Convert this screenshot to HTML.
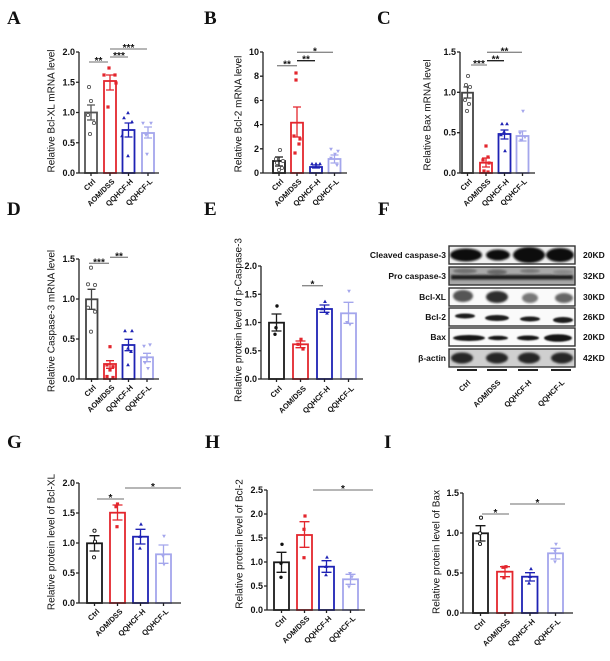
<!DOCTYPE html>
<html><head><meta charset="utf-8">
<style>
body{margin:0;background:#fff}
svg{display:block}
text{font-family:"Liberation Sans",Arial,sans-serif;fill:#111}
.L{font-family:"Liberation Serif","Times New Roman",serif;font-weight:bold;font-size:19px}
.t{font-weight:bold;font-size:9px;text-anchor:end}
.x{font-weight:bold;font-size:7.5px;text-anchor:end}
.y{font-size:10px;text-anchor:middle}
.s{font-size:10px;text-anchor:middle;font-weight:bold}
.b{font-weight:bold;font-size:8.5px}
.br{font-weight:bold;font-size:8.5px;text-anchor:end}
</style></head>
<body>
<svg width="610" height="661" viewBox="0 0 610 661" xmlns="http://www.w3.org/2000/svg">
<defs>
<circle id="oc" r="1.6" fill="#fff" stroke="#555" stroke-width="0.9"/>
<circle id="ok" r="1.6" fill="#fff" stroke="#111" stroke-width="0.9"/>
<circle id="fk" r="1.7" fill="#111"/>
<rect id="sq" x="-1.6" y="-1.6" width="3.2" height="3.2" fill="#e3262d"/>
<path id="tr" d="M0,-2.1L1.9,1.3H-1.9Z" fill="#1e22b4"/>
<path id="it" d="M0,2.1L1.9,-1.3H-1.9Z" fill="#a4a6ec"/>
<filter id="bl" x="-30%" y="-60%" width="160%" height="220%"><feGaussianBlur stdDeviation="1.1"/></filter>
<filter id="bl2" x="-30%" y="-60%" width="160%" height="220%"><feGaussianBlur stdDeviation="0.7"/></filter>
</defs>
<rect width="610" height="661" fill="#fff"/>

<!-- Panel letters -->
<text class="L" x="7" y="24">A</text>
<text class="L" x="204" y="24">B</text>
<text class="L" x="377" y="24">C</text>
<text class="L" x="7" y="215">D</text>
<text class="L" x="204" y="215">E</text>
<text class="L" x="378" y="215">F</text>
<text class="L" x="7" y="448">G</text>
<text class="L" x="205" y="448">H</text>
<text class="L" x="384" y="448">I</text>

<!-- ================= Panel A ================= -->
<g fill="#fff" stroke-width="1.8">
<rect x="85" y="112.5" width="12" height="60.5" stroke="#555"/>
<rect x="104" y="81" width="12" height="92" stroke="#e3262d"/>
<rect x="122.5" y="130" width="12" height="43" stroke="#1e22b4"/>
<rect x="142" y="133" width="12" height="40" stroke="#a4a6ec"/>
</g>
<g fill="none" stroke-width="1.3">
<path d="M91,105V120M87,105H95M87,120H95" stroke="#555"/>
<path d="M110,75V90M106,75H114M106,90H114" stroke="#e3262d"/>
<path d="M128.5,123V137M124.5,123H132.5M124.5,137H132.5" stroke="#1e22b4"/>
<path d="M148,127V138M144,127H152M144,138H152" stroke="#a4a6ec"/>
</g>
<use href="#oc" x="89" y="87"/><use href="#oc" x="91" y="101"/><use href="#oc" x="88" y="115"/><use href="#oc" x="94" y="123"/><use href="#oc" x="90" y="134"/>
<use href="#sq" x="109" y="68"/><use href="#sq" x="104" y="75"/><use href="#sq" x="115" y="75"/><use href="#sq" x="116" y="83"/><use href="#sq" x="108" y="107"/>
<use href="#tr" x="128" y="113"/><use href="#tr" x="124" y="118"/><use href="#tr" x="132" y="122"/><use href="#tr" x="122" y="136"/><use href="#tr" x="128" y="156"/>
<use href="#it" x="143" y="123"/><use href="#it" x="151" y="123"/><use href="#it" x="146" y="135"/><use href="#it" x="147" y="154"/>
<path d="M79,52V173H159M76,52H79M76,82.25H79M76,112.5H79M76,142.75H79M76,173H79M91,173V176M110,173V176M128.5,173V176M148,173V176" stroke="#222" stroke-width="1.3" fill="none"/>
<text class="t" x="75" y="55">2.0</text><text class="t" x="75" y="85.25">1.5</text><text class="t" x="75" y="115.5">1.0</text><text class="t" x="75" y="145.75">0.5</text><text class="t" x="75" y="176">0.0</text>
<text class="y" transform="translate(54.5,111) rotate(-90)">Relative Bcl-XL mRNA level</text>
<text class="x" transform="translate(96,182) rotate(-45)">Ctrl</text>
<text class="x" transform="translate(115,182) rotate(-45)">AOM/DSS</text>
<text class="x" transform="translate(133.5,182) rotate(-45)">QQHCF-H</text>
<text class="x" transform="translate(153,182) rotate(-45)">QQHCF-L</text>
<path d="M89,62H108M110,57H128M110,49H147" stroke="#8a8a8a" stroke-width="1.3"/>
<text class="s" x="98.5" y="64">**</text><text class="s" x="119" y="59">***</text><text class="s" x="128.5" y="51">***</text>

<!-- ================= Panel B ================= -->
<g fill="#fff" stroke-width="1.8">
<rect x="273" y="161" width="12" height="12" stroke="#1a1a1a"/>
<rect x="291" y="122.7" width="12" height="50.3" stroke="#e3262d"/>
<rect x="310" y="167" width="12" height="6" stroke="#1e22b4"/>
<rect x="328.5" y="159" width="12" height="14" stroke="#a4a6ec"/>
</g>
<g fill="none" stroke-width="1.3">
<path d="M279,157V166M275,157H283M275,166H283" stroke="#1a1a1a"/>
<path d="M297,107V137M293,107H301M293,137H301" stroke="#e3262d"/>
<path d="M316,165V168M312,165H320M312,168H320" stroke="#1e22b4"/>
<path d="M334.5,155V163M330.5,155H338.5M330.5,163H338.5" stroke="#a4a6ec"/>
</g>
<use href="#oc" x="280" y="150"/><use href="#oc" x="276" y="159"/><use href="#oc" x="283" y="161"/><use href="#oc" x="277" y="163"/><use href="#oc" x="282" y="168"/><use href="#oc" x="279" y="170"/>
<use href="#sq" x="296" y="73"/><use href="#sq" x="296" y="80"/><use href="#sq" x="294" y="136"/><use href="#sq" x="300" y="139"/><use href="#sq" x="299" y="144"/><use href="#sq" x="295" y="153"/>
<use href="#tr" x="312" y="164"/><use href="#tr" x="316" y="164"/><use href="#tr" x="320" y="164"/><use href="#tr" x="316" y="167"/>
<use href="#it" x="331" y="149"/><use href="#it" x="338" y="151"/><use href="#it" x="335" y="154"/><use href="#it" x="331" y="158"/><use href="#it" x="337" y="165"/>
<path d="M263,52V173H347M260,52H263M260,76.2H263M260,100.4H263M260,124.6H263M260,148.8H263M260,173H263M279,173V176M297,173V176M316,173V176M334.5,173V176" stroke="#222" stroke-width="1.3" fill="none"/>
<text class="t" x="259" y="55">10</text><text class="t" x="259" y="79.2">8</text><text class="t" x="259" y="103.4">6</text><text class="t" x="259" y="127.6">4</text><text class="t" x="259" y="151.8">2</text><text class="t" x="259" y="176">0</text>
<text class="y" transform="translate(241.5,114) rotate(-90)">Relative Bcl-2 mRNA level</text>
<text class="x" transform="translate(284,182) rotate(-45)">Ctrl</text>
<text class="x" transform="translate(302,182) rotate(-45)">AOM/DSS</text>
<text class="x" transform="translate(321,182) rotate(-45)">QQHCF-H</text>
<text class="x" transform="translate(339.5,182) rotate(-45)">QQHCF-L</text>
<path d="M277,65.7H297M297,52.3H333" stroke="#8a8a8a" stroke-width="1.3"/>
<path d="M297,60.7H315" stroke="#222" stroke-width="1.3"/>
<text class="s" x="287" y="67.7">**</text><text class="s" x="306" y="62.7">**</text><text class="s" x="315" y="54.3">*</text>

<!-- ================= Panel C ================= -->
<g fill="#fff" stroke-width="1.8">
<rect x="462" y="92.7" width="11" height="80.3" stroke="#444"/>
<rect x="480" y="162.7" width="12" height="10.3" stroke="#e3262d"/>
<rect x="498.5" y="134" width="12" height="39" stroke="#1e22b4"/>
<rect x="516.5" y="136" width="12" height="37" stroke="#a4a6ec"/>
</g>
<g fill="none" stroke-width="1.3">
<path d="M467.5,87V98M463.5,87H471.5M463.5,98H471.5" stroke="#444"/>
<path d="M486,158V167M482,158H490M482,167H490" stroke="#e3262d"/>
<path d="M504.5,130V139M500.5,130H508.5M500.5,139H508.5" stroke="#1e22b4"/>
<path d="M522.5,131V141M518.5,131H526.5M518.5,141H526.5" stroke="#a4a6ec"/>
</g>
<use href="#oc" x="468" y="76"/><use href="#oc" x="466" y="85"/><use href="#oc" x="470" y="87"/><use href="#oc" x="465" y="100"/><use href="#oc" x="469" y="104"/><use href="#oc" x="467" y="111"/>
<use href="#sq" x="486" y="146"/><use href="#sq" x="488" y="157"/><use href="#sq" x="483" y="160"/><use href="#sq" x="489" y="163"/><use href="#sq" x="484" y="171"/><use href="#sq" x="488" y="172"/>
<use href="#tr" x="502" y="124"/><use href="#tr" x="507" y="124"/><use href="#tr" x="504" y="132"/><use href="#tr" x="501" y="135"/><use href="#tr" x="505" y="151"/>
<use href="#it" x="523" y="111"/><use href="#it" x="520" y="133"/><use href="#it" x="525" y="137"/><use href="#it" x="521" y="140"/>
<path d="M460,52V173H535M457,52H460M457,92.3H460M457,132.7H460M457,173H460M467.5,173V176M486,173V176M504.5,173V176M522.5,173V176" stroke="#222" stroke-width="1.3" fill="none"/>
<text class="t" x="456" y="55">1.5</text><text class="t" x="456" y="95.3">1.0</text><text class="t" x="456" y="135.7">0.5</text><text class="t" x="456" y="176">0.0</text>
<text class="y" transform="translate(430.5,115) rotate(-90)">Relative Bax mRNA level</text>
<text class="x" transform="translate(472.5,182) rotate(-45)">Ctrl</text>
<text class="x" transform="translate(491,182) rotate(-45)">AOM/DSS</text>
<text class="x" transform="translate(509.5,182) rotate(-45)">QQHCF-H</text>
<text class="x" transform="translate(527.5,182) rotate(-45)">QQHCF-L</text>
<path d="M471,65H487M487,52.3H522" stroke="#8a8a8a" stroke-width="1.3"/>
<path d="M487,60.7H504" stroke="#222" stroke-width="1.3"/>
<text class="s" x="479" y="67">***</text><text class="s" x="495.5" y="62.7">**</text><text class="s" x="504.5" y="54.3">**</text>

<!-- ================= Panel D ================= -->
<g fill="#fff" stroke-width="1.8">
<rect x="86" y="299.3" width="11.5" height="79.7" stroke="#444"/>
<rect x="104" y="364" width="12" height="15" stroke="#e3262d"/>
<rect x="122.5" y="345" width="12" height="34" stroke="#1e22b4"/>
<rect x="141" y="357.3" width="12" height="21.7" stroke="#a4a6ec"/>
</g>
<g fill="none" stroke-width="1.3">
<path d="M91.5,289.3V309.3M87.5,289.3H95.5M87.5,309.3H95.5" stroke="#444"/>
<path d="M110,360.7V368.3M106,360.7H114M106,368.3H114" stroke="#e3262d"/>
<path d="M128.5,339.3V350.7M124.5,339.3H132.5M124.5,350.7H132.5" stroke="#1e22b4"/>
<path d="M147,353.3V361.7M143,353.3H151M143,361.7H151" stroke="#a4a6ec"/>
</g>
<use href="#oc" x="91" y="267.7"/><use href="#oc" x="88" y="284.3"/><use href="#oc" x="95" y="285"/><use href="#oc" x="88" y="307.7"/><use href="#oc" x="95" y="311.7"/><use href="#oc" x="91" y="331.7"/>
<use href="#sq" x="110" y="346.7"/><use href="#sq" x="107" y="365"/><use href="#sq" x="113" y="366.7"/><use href="#sq" x="110" y="370"/><use href="#sq" x="107" y="376.5"/><use href="#sq" x="113" y="377.5"/>
<use href="#tr" x="125" y="331"/><use href="#tr" x="132" y="331"/><use href="#tr" x="128" y="348.3"/><use href="#tr" x="131" y="351.7"/><use href="#tr" x="128" y="365"/>
<use href="#it" x="144" y="346"/><use href="#it" x="150" y="344.7"/><use href="#it" x="147" y="358.3"/><use href="#it" x="145" y="362.7"/><use href="#it" x="148" y="368.3"/>
<path d="M79,259V379H159M76,259H79M76,299H79M76,339H79M76,379H79M91.5,379V382M110,379V382M128.5,379V382M147,379V382" stroke="#222" stroke-width="1.3" fill="none"/>
<text class="t" x="75" y="262">1.5</text><text class="t" x="75" y="302">1.0</text><text class="t" x="75" y="342">0.5</text><text class="t" x="75" y="382">0.0</text>
<text class="y" transform="translate(54.5,321) rotate(-90)">Relative Caspase-3 mRNA level</text>
<text class="x" transform="translate(96.5,388) rotate(-45)">Ctrl</text>
<text class="x" transform="translate(115,388) rotate(-45)">AOM/DSS</text>
<text class="x" transform="translate(133.5,388) rotate(-45)">QQHCF-H</text>
<text class="x" transform="translate(152,388) rotate(-45)">QQHCF-L</text>
<path d="M89,263.3H109M110,257.3H128" stroke="#8a8a8a" stroke-width="1.3"/>
<text class="s" x="99" y="265.3">***</text><text class="s" x="119" y="259.3">**</text>

<!-- ================= Panel E ================= -->
<g fill="#fff" stroke-width="1.8">
<rect x="269" y="322.7" width="15" height="56.3" stroke="#1a1a1a"/>
<rect x="293" y="344.3" width="15" height="34.7" stroke="#e3262d"/>
<rect x="317" y="309" width="15" height="70" stroke="#1e22b4"/>
<rect x="341" y="313.3" width="15" height="65.7" stroke="#a4a6ec"/>
</g>
<g fill="none" stroke-width="1.3">
<path d="M276.5,314V331M271.5,314H281.5M271.5,331H281.5" stroke="#1a1a1a"/>
<path d="M300.5,341V347.7M295.5,341H305.5M295.5,347.7H305.5" stroke="#e3262d"/>
<path d="M324.5,305V312.3M319.5,305H329.5M319.5,312.3H329.5" stroke="#1e22b4"/>
<path d="M348.5,302.3V323.3M343.5,302.3H353.5M343.5,323.3H353.5" stroke="#a4a6ec"/>
</g>
<use href="#fk" x="277" y="306"/><use href="#fk" x="276" y="327.7"/><use href="#fk" x="275" y="334.3"/>
<use href="#sq" x="301" y="339.3"/><use href="#sq" x="298" y="344.3"/><use href="#sq" x="303" y="349"/>
<use href="#tr" x="325" y="301.7"/><use href="#tr" x="322" y="309"/><use href="#tr" x="327" y="313.3"/>
<use href="#it" x="349" y="291"/><use href="#it" x="347" y="322.3"/><use href="#it" x="350" y="324.3"/>
<path d="M261,266V379H363M258,266H261M258,294.25H261M258,322.5H261M258,350.75H261M258,379H261M276.5,379V382M300.5,379V382M324.5,379V382M348.5,379V382" stroke="#222" stroke-width="1.3" fill="none"/>
<text class="t" x="257" y="269">2.0</text><text class="t" x="257" y="297.25">1.5</text><text class="t" x="257" y="325.5">1.0</text><text class="t" x="257" y="353.75">0.5</text><text class="t" x="257" y="382">0.0</text>
<text class="y" transform="translate(241.5,320) rotate(-90)">Relative protein level of p-Caspase-3</text>
<text class="x" transform="translate(282.5,389) rotate(-45)">Ctrl</text>
<text class="x" transform="translate(306.5,389) rotate(-45)">AOM/DSS</text>
<text class="x" transform="translate(330.5,389) rotate(-45)">QQHCF-H</text>
<text class="x" transform="translate(354.5,389) rotate(-45)">QQHCF-L</text>
<path d="M302,285.7H323" stroke="#8a8a8a" stroke-width="1.3"/>
<text class="s" x="312.5" y="287.7">*</text>

<!-- ================= Panel F (blot) ================= -->
<g>
<!-- row1 -->
<rect x="449" y="246" width="126" height="18" fill="#f0f0f0"/>
<g filter="url(#bl)" fill="#111">
<ellipse cx="466" cy="255" rx="16" ry="6.5"/>
<ellipse cx="498" cy="255" rx="12" ry="5.5"/>
<ellipse cx="529" cy="255" rx="16" ry="8"/>
<ellipse cx="560" cy="255" rx="14" ry="7"/>
</g>
<!-- row2 -->
<rect x="449" y="267" width="126" height="18" fill="#a8a8a8"/>
<g filter="url(#bl)">
<ellipse cx="465" cy="271" rx="12" ry="2.5" fill="#707070"/>
<ellipse cx="497" cy="272" rx="10" ry="2.5" fill="#666"/>
<ellipse cx="530" cy="271" rx="10" ry="2" fill="#777"/>
<ellipse cx="563" cy="272" rx="10" ry="2" fill="#888"/>
<rect x="451" y="275" width="122" height="4.5" fill="#1a1a1a"/>
</g>
<!-- row3 -->
<rect x="449" y="288" width="126" height="18" fill="#fafafa"/>
<g filter="url(#bl)">
<ellipse cx="463" cy="296" rx="10" ry="6" fill="#555"/>
<ellipse cx="497" cy="297" rx="11" ry="6" fill="#2e2e2e"/>
<ellipse cx="530" cy="298" rx="8" ry="5" fill="#777"/>
<ellipse cx="564" cy="298" rx="9" ry="5" fill="#666"/>
</g>
<!-- row4 -->
<rect x="449" y="308" width="126" height="18" fill="#fafafa"/>
<g filter="url(#bl2)" fill="#1a1a1a">
<ellipse cx="465" cy="316" rx="10" ry="2.5"/>
<ellipse cx="497" cy="318" rx="12" ry="3"/>
<ellipse cx="530" cy="319" rx="10" ry="2.5"/>
<ellipse cx="563" cy="320" rx="10" ry="3"/>
</g>
<!-- row5 -->
<rect x="449" y="328" width="126" height="18" fill="#fafafa"/>
<g filter="url(#bl2)" fill="#151515">
<ellipse cx="469" cy="338" rx="16" ry="3"/>
<ellipse cx="498" cy="338" rx="10" ry="2.2"/>
<ellipse cx="528" cy="338" rx="11" ry="2.5"/>
<ellipse cx="558" cy="338" rx="14" ry="3.8"/>
</g>
<!-- row6 -->
<rect x="449" y="349" width="126" height="18" fill="#cfcfcf"/>
<g filter="url(#bl)" fill="#262626">
<ellipse cx="462" cy="358" rx="11" ry="5.5"/>
<ellipse cx="497" cy="358" rx="11" ry="5.5"/>
<ellipse cx="529" cy="358" rx="11" ry="5.5"/>
<ellipse cx="562" cy="358" rx="11" ry="5.5"/>
</g>
<g fill="none" stroke="#333" stroke-width="1.4">
<rect x="449" y="246" width="126" height="18"/>
<rect x="449" y="267" width="126" height="18"/>
<rect x="449" y="288" width="126" height="18"/>
<rect x="449" y="308" width="126" height="18"/>
<rect x="449" y="328" width="126" height="18"/>
<rect x="449" y="349" width="126" height="18"/>
</g>
<path d="M457,370H477M487,370H507M518,370H538M551,370H571" stroke="#222" stroke-width="2"/>
</g>
<text class="br" x="446" y="258">Cleaved caspase-3</text>
<text class="br" x="446" y="279">Pro caspase-3</text>
<text class="br" x="446" y="300">Bcl-XL</text>
<text class="br" x="446" y="320">Bcl-2</text>
<text class="br" x="446" y="340">Bax</text>
<text class="br" x="446" y="361">β-actin</text>
<text class="b" x="583" y="258">20KD</text>
<text class="b" x="583" y="279">32KD</text>
<text class="b" x="583" y="300">30KD</text>
<text class="b" x="583" y="320">26KD</text>
<text class="b" x="583" y="340">20KD</text>
<text class="b" x="583" y="361">42KD</text>
<text class="x" transform="translate(471,383) rotate(-45)">Ctrl</text>
<text class="x" transform="translate(501,383) rotate(-45)">AOM/DSS</text>
<text class="x" transform="translate(532,383) rotate(-45)">QQHCF-H</text>
<text class="x" transform="translate(565,383) rotate(-45)">QQHCF-L</text>

<!-- ================= Panel G ================= -->
<g fill="#fff" stroke-width="1.8">
<rect x="87" y="543.3" width="15" height="59.7" stroke="#1a1a1a"/>
<rect x="110" y="512.7" width="15" height="90.3" stroke="#e3262d"/>
<rect x="133" y="536.7" width="15" height="66.3" stroke="#1e22b4"/>
<rect x="156" y="554.3" width="15" height="48.7" stroke="#a4a6ec"/>
</g>
<g fill="none" stroke-width="1.3">
<path d="M94.5,535.7V551M89.5,535.7H99.5M89.5,551H99.5" stroke="#1a1a1a"/>
<path d="M117.5,505V520M112.5,505H122.5M112.5,520H122.5" stroke="#e3262d"/>
<path d="M140.5,529.3V544M135.5,529.3H145.5M135.5,544H145.5" stroke="#1e22b4"/>
<path d="M163.5,545V563.3M158.5,545H168.5M158.5,563.3H168.5" stroke="#a4a6ec"/>
</g>
<use href="#ok" x="94.5" y="530.7"/><use href="#ok" x="95" y="541.7"/><use href="#ok" x="94" y="557.3"/>
<use href="#sq" x="117.5" y="504"/><use href="#sq" x="116" y="506.7"/><use href="#sq" x="117" y="526.7"/>
<use href="#tr" x="141" y="524.3"/><use href="#tr" x="140" y="536.7"/><use href="#tr" x="140" y="548.3"/>
<use href="#it" x="164" y="536"/><use href="#it" x="163" y="556"/><use href="#it" x="164" y="564.3"/>
<path d="M79,483V603H181M76,483H79M76,513H79M76,543H79M76,573H79M76,603H79M94.5,603V606M117.5,603V606M140.5,603V606M163.5,603V606" stroke="#222" stroke-width="1.3" fill="none"/>
<text class="t" x="75" y="486">2.0</text><text class="t" x="75" y="516">1.5</text><text class="t" x="75" y="546">1.0</text><text class="t" x="75" y="576">0.5</text><text class="t" x="75" y="606">0.0</text>
<text class="y" transform="translate(54.5,542) rotate(-90)">Relative protein level of Bcl-XL</text>
<text class="x" transform="translate(100,612) rotate(-45)">Ctrl</text>
<text class="x" transform="translate(123,612) rotate(-45)">AOM/DSS</text>
<text class="x" transform="translate(146,612) rotate(-45)">QQHCF-H</text>
<text class="x" transform="translate(169,612) rotate(-45)">QQHCF-L</text>
<path d="M97,499H124M125,488H181" stroke="#8a8a8a" stroke-width="1.3"/>
<text class="s" x="110.5" y="501">*</text><text class="s" x="153" y="490">*</text>

<!-- ================= Panel H ================= -->
<g fill="#fff" stroke-width="1.8">
<rect x="274" y="562.3" width="15" height="47.7" stroke="#1a1a1a"/>
<rect x="297" y="535" width="15" height="75" stroke="#e3262d"/>
<rect x="319" y="566.7" width="15" height="43.3" stroke="#1e22b4"/>
<rect x="343" y="579.3" width="15" height="30.7" stroke="#a4a6ec"/>
</g>
<g fill="none" stroke-width="1.3">
<path d="M281.5,552.3V572.3M276.5,552.3H286.5M276.5,572.3H286.5" stroke="#1a1a1a"/>
<path d="M304.5,521.7V547.3M299.5,521.7H309.5M299.5,547.3H309.5" stroke="#e3262d"/>
<path d="M326.5,560.7V572.3M321.5,560.7H331.5M321.5,572.3H331.5" stroke="#1e22b4"/>
<path d="M350.5,574.3V584.3M345.5,574.3H355.5M345.5,584.3H355.5" stroke="#a4a6ec"/>
</g>
<use href="#fk" x="282" y="544.3"/><use href="#fk" x="281" y="563.3"/><use href="#fk" x="281" y="577.3"/>
<use href="#sq" x="305" y="516"/><use href="#sq" x="304" y="529.3"/><use href="#sq" x="304" y="557.7"/>
<use href="#tr" x="327" y="557.3"/><use href="#tr" x="326" y="566.7"/><use href="#tr" x="326" y="575"/>
<use href="#it" x="350" y="573.3"/><use href="#it" x="352" y="576.7"/><use href="#it" x="349" y="586.7"/>
<path d="M267,490V610H365M264,490H267M264,514H267M264,538H267M264,562H267M264,586H267M264,610H267M281.5,610V613M304.5,610V613M326.5,610V613M350.5,610V613" stroke="#222" stroke-width="1.3" fill="none"/>
<text class="t" x="263" y="493">2.5</text><text class="t" x="263" y="517">2.0</text><text class="t" x="263" y="541">1.5</text><text class="t" x="263" y="565">1.0</text><text class="t" x="263" y="589">0.5</text><text class="t" x="263" y="613">0.0</text>
<text class="y" transform="translate(242.5,544) rotate(-90)">Relative protein level of Bcl-2</text>
<text class="x" transform="translate(287,619) rotate(-45)">Ctrl</text>
<text class="x" transform="translate(310,619) rotate(-45)">AOM/DSS</text>
<text class="x" transform="translate(332,619) rotate(-45)">QQHCF-H</text>
<text class="x" transform="translate(356,619) rotate(-45)">QQHCF-L</text>
<path d="M313,490H373" stroke="#8a8a8a" stroke-width="1.3"/>
<text class="s" x="343" y="492">*</text>

<!-- ================= Panel I ================= -->
<g fill="#fff" stroke-width="1.8">
<rect x="473" y="533.3" width="15" height="79.7" stroke="#1a1a1a"/>
<rect x="497" y="571.7" width="15.5" height="41.3" stroke="#e3262d"/>
<rect x="522" y="576.7" width="15.5" height="36.3" stroke="#1e22b4"/>
<rect x="548" y="553.3" width="15" height="59.7" stroke="#a4a6ec"/>
</g>
<g fill="none" stroke-width="1.3">
<path d="M480.5,525.7V541M475.5,525.7H485.5M475.5,541H485.5" stroke="#1a1a1a"/>
<path d="M505,566.7V576.7M500,566.7H510M500,576.7H510" stroke="#e3262d"/>
<path d="M530,572.7V581M525,572.7H535M525,581H535" stroke="#1e22b4"/>
<path d="M555.5,548.3V559M550.5,548.3H560.5M550.5,559H560.5" stroke="#a4a6ec"/>
</g>
<use href="#ok" x="481" y="517.7"/><use href="#ok" x="480" y="533.3"/><use href="#ok" x="480" y="544"/>
<use href="#sq" x="506" y="566.7"/><use href="#sq" x="503" y="567.3"/><use href="#sq" x="504" y="577.7"/>
<use href="#tr" x="531" y="569"/><use href="#tr" x="530" y="576.7"/><use href="#tr" x="529" y="583.3"/>
<use href="#it" x="556" y="544"/><use href="#it" x="555" y="551"/><use href="#it" x="555" y="561.7"/>
<path d="M463,493V613H573M460,493H463M460,533H463M460,573H463M460,613H463M480.5,613V616M505,613V616M530,613V616M555.5,613V616" stroke="#222" stroke-width="1.3" fill="none"/>
<text class="t" x="459" y="496">1.5</text><text class="t" x="459" y="536">1.0</text><text class="t" x="459" y="576">0.5</text><text class="t" x="459" y="616">0.0</text>
<text class="y" transform="translate(439.5,552) rotate(-90)">Relative protein level of Bax</text>
<text class="x" transform="translate(486,622) rotate(-45)">Ctrl</text>
<text class="x" transform="translate(510.5,622) rotate(-45)">AOM/DSS</text>
<text class="x" transform="translate(535.5,622) rotate(-45)">QQHCF-H</text>
<text class="x" transform="translate(561,622) rotate(-45)">QQHCF-L</text>
<path d="M482,514H509M510,504H565" stroke="#8a8a8a" stroke-width="1.3"/>
<text class="s" x="495.5" y="516">*</text><text class="s" x="537.5" y="506">*</text>
</svg>
</body></html>
